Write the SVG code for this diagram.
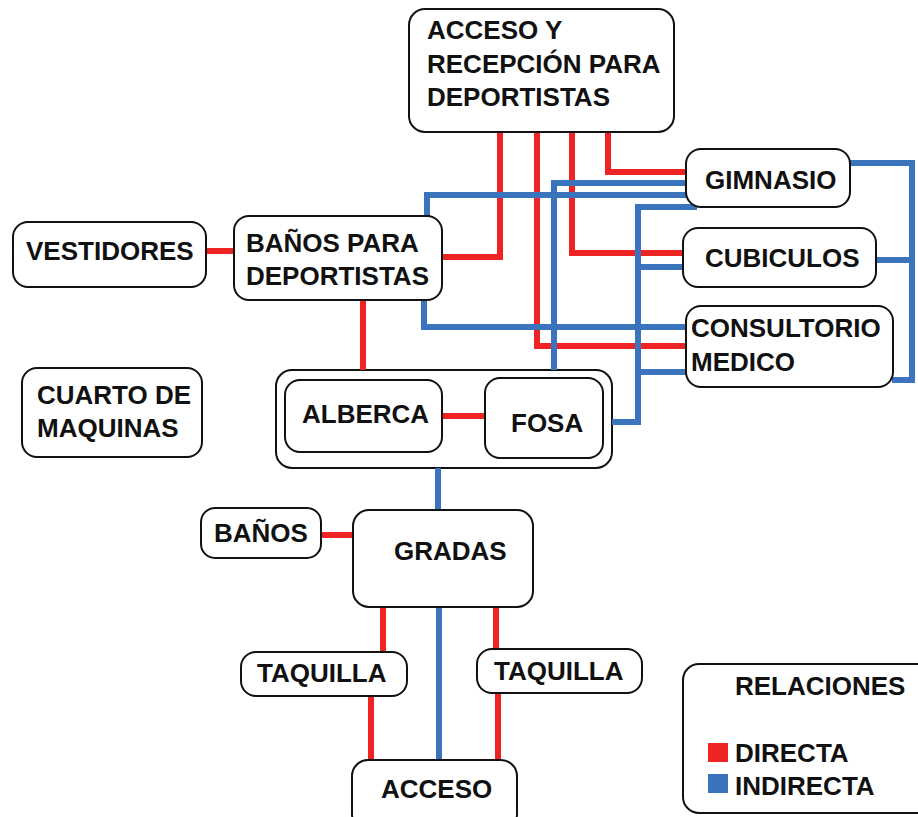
<svg xmlns="http://www.w3.org/2000/svg" width="918" height="817" viewBox="0 0 918 817">
<style>
.box{fill:#fff;stroke:#111;stroke-width:2}
.t{font-family:"Liberation Sans",Arial,sans-serif;font-weight:bold;font-size:26px;fill:#111}
.r{fill:none;stroke:#ee2424;stroke-width:6}
.b{fill:none;stroke:#3b74bd;stroke-width:6}
</style>
<rect width="918" height="817" fill="#fff"/>
<g id="piscina">
<rect class="box" x="276" y="370" width="336" height="98" rx="16"/>
</g>
<g id="connectors">
<path class="r" d="M500,132 V257 H442"/>
<path class="r" d="M537,132 V346 H686"/>
<path class="r" d="M572,132 V253 H683"/>
<path class="r" d="M608,132 V172 H686"/>
<path class="r" d="M206,251 H234"/>
<path class="r" d="M363,300 V370"/>
<path class="r" d="M442,416 H485"/>
<path class="r" d="M321,535 H353"/>
<path class="r" d="M383,607 V652"/>
<path class="r" d="M371,696 V760"/>
<path class="r" d="M496,607 V649"/>
<path class="r" d="M498,693 V760"/>
<path class="b" d="M427,216 V195 H686"/>
<path class="b" d="M554,370 V183 H686"/>
<path class="b" d="M424,300 V327 H686"/>
<path class="b" d="M697,207 H638 V422 H612"/>
<path class="b" d="M638,267 H683"/>
<path class="b" d="M638,372 H686"/>
<path class="b" d="M850,163 H912 V380 H892"/>
<path class="b" d="M876,260 H912"/>
<path class="b" d="M438,468 V510"/>
<path class="b" d="M439,607 V760"/>
</g>
<g id="acceso-recepcion">
<rect class="box" x="409" y="9" width="265" height="123" rx="16"/>
<text class="t" x="427" y="39">ACCESO Y</text>
<text class="t" x="427" y="73">RECEPCIÓN PARA</text>
<text class="t" x="427" y="106">DEPORTISTAS</text>
</g>
<g id="gimnasio">
<rect class="box" x="686" y="149" width="164" height="58" rx="15"/>
<text class="t" x="705" y="189">GIMNASIO</text>
</g>
<g id="cubiculos">
<rect class="box" x="683" y="228" width="193" height="59" rx="15"/>
<text class="t" x="705" y="267">CUBICULOS</text>
</g>
<g id="consultorio">
<rect class="box" x="686" y="306" width="207" height="81" rx="15"/>
<text class="t" x="691" y="337">CONSULTORIO</text>
<text class="t" x="691" y="371">MEDICO</text>
</g>
<g id="banos-deportistas">
<rect class="box" x="234" y="216" width="208" height="84" rx="15"/>
<text class="t" x="246" y="252">BAÑOS PARA</text>
<text class="t" x="246" y="285">DEPORTISTAS</text>
</g>
<g id="vestidores">
<rect class="box" x="13" y="222" width="193" height="65" rx="15"/>
<text class="t" x="26" y="260">VESTIDORES</text>
</g>
<g id="cuarto-maquinas">
<rect class="box" x="22" y="368" width="180" height="89" rx="15"/>
<text class="t" x="37" y="404">CUARTO DE</text>
<text class="t" x="37" y="437">MAQUINAS</text>
</g>
<g id="alberca">
<rect class="box" x="285" y="380" width="157" height="72" rx="15"/>
<text class="t" x="302" y="423">ALBERCA</text>
</g>
<g id="fosa">
<rect class="box" x="485" y="378" width="118" height="80" rx="15"/>
<text class="t" x="511" y="432">FOSA</text>
</g>
<g id="gradas">
<rect class="box" x="353" y="510" width="180" height="97" rx="16"/>
<text class="t" x="394" y="560">GRADAS</text>
</g>
<g id="banos">
<rect class="box" x="201" y="508" width="120" height="50" rx="14"/>
<text class="t" x="214" y="542">BAÑOS</text>
</g>
<g id="taquilla-1">
<rect class="box" x="241" y="652" width="166" height="44" rx="15"/>
<text class="t" x="257" y="682">TAQUILLA</text>
</g>
<g id="taquilla-2">
<rect class="box" x="477" y="649" width="165" height="44" rx="15"/>
<text class="t" x="494" y="680">TAQUILLA</text>
</g>
<g id="acceso">
<rect class="box" x="352" y="760" width="165" height="70" rx="16"/>
<text class="t" x="381" y="798">ACCESO</text>
</g>
<g id="leyenda">
<rect class="box" x="683" y="664" width="250" height="149" rx="16"/>
<text class="t" x="735" y="695">RELACIONES</text>
<rect x="708" y="743" width="20" height="19" fill="#ee2424"/>
<text class="t" x="735" y="762">DIRECTA</text>
<rect x="708" y="774" width="20" height="19" fill="#3b74bd"/>
<text class="t" x="735" y="795">INDIRECTA</text>
</g>
</svg>
